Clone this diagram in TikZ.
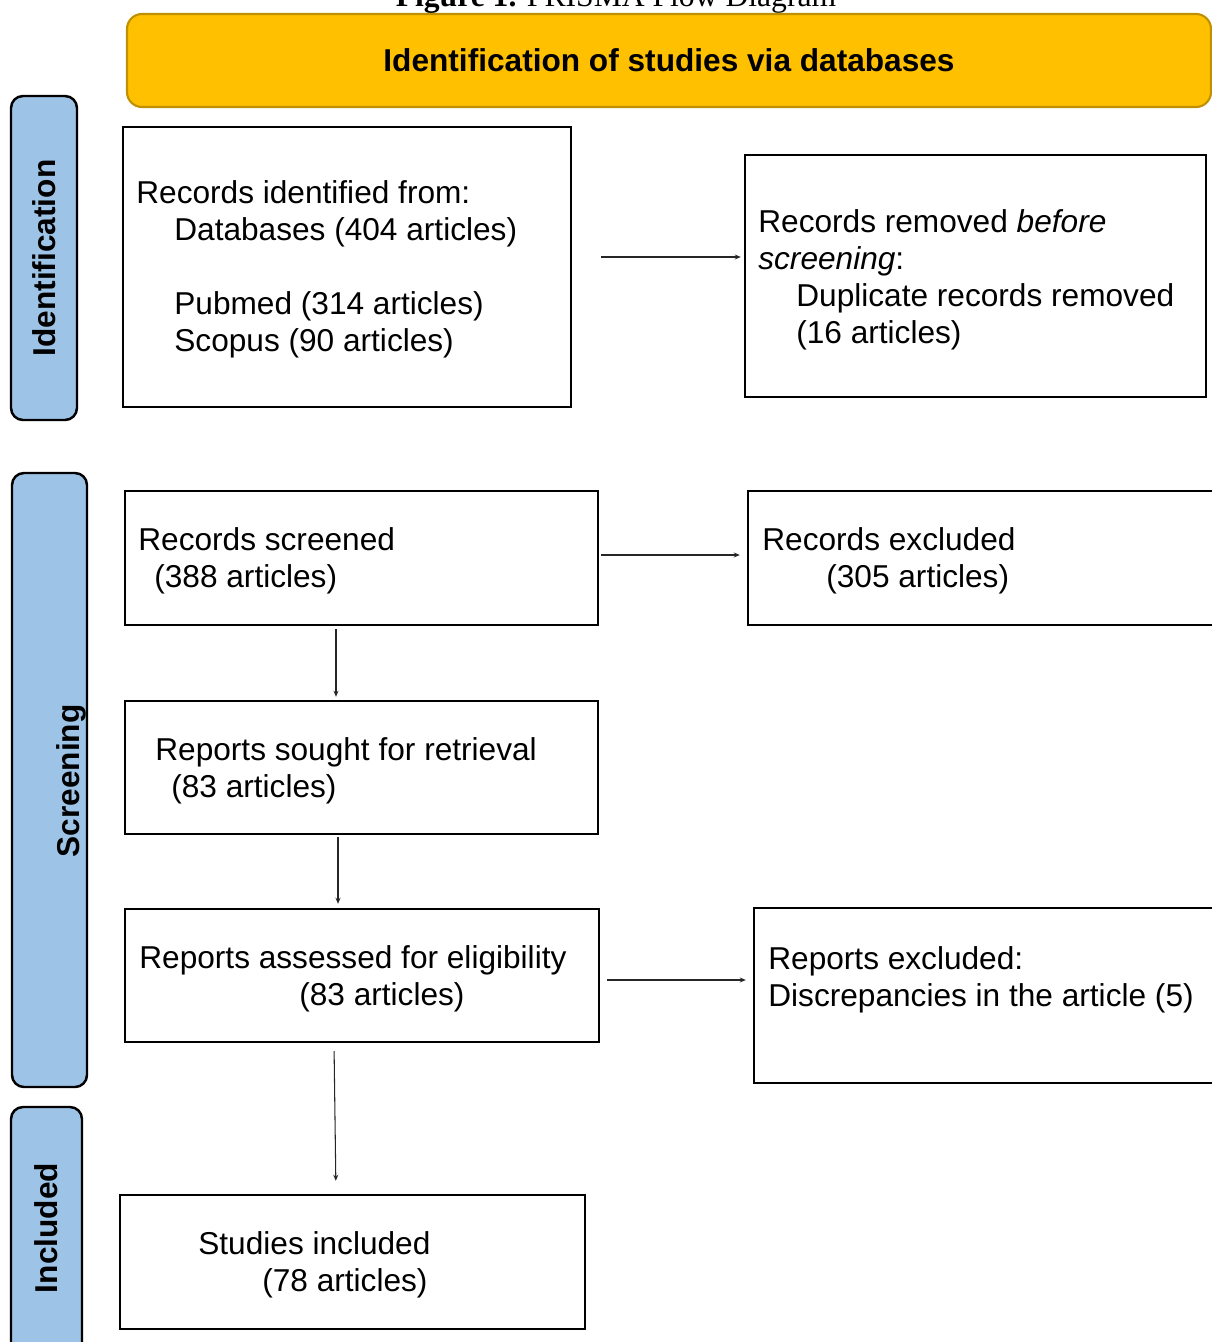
\documentclass[tikz,border=0pt]{standalone}
\usepackage{fontspec}
\setmainfont{Liberation Sans}
\newfontfamily\titlefont{Liberation Serif}
\usepackage{xcolor}
\usepackage{tikz}
\usetikzlibrary{calc}
\usetikzlibrary{arrows.meta}
\usetikzlibrary{positioning}
\definecolor{headfill}{HTML}{FFC000}
\definecolor{headline}{HTML}{BF9000}
\definecolor{barfill}{HTML}{9DC3E6}
\newlength{\pxu}
\setlength{\pxu}{0.02cm}

\begin{document}
\begin{tikzpicture}[x=0.02cm, y=-0.02cm,
  txt/.style={font=\fontsize{18}{21.05}\selectfont, inner sep=0pt, align=left, anchor=base west},
  box/.style={draw, line width=1.4pt, inner sep=0pt},
  bar/.style={draw, line width=1.4pt, fill=barfill, rounded corners=12\pxu},
  barlabel/.style={font=\fontsize{18}{21.05}\selectfont\bfseries, rotate=90, inner sep=0pt},
  arr/.style={line width=0.6pt, black!85, -{Stealth[length=0.12cm, width=0.1cm]}}]

  \useasboundingbox (0,0) rectangle (1212,1342);

  \node[font=\titlefont\fontsize{18}{21}\selectfont, anchor=base, inner sep=0pt] (title)
    at (616,7) {\textbf{Figure 1.} PRISMA Flow Diagram};
  \node[draw=headline, line width=1.2pt, fill=headfill, rounded corners=15\pxu,
    minimum width=1084\pxu, minimum height=93\pxu,
    font=\fontsize{18}{21.05}\selectfont\bfseries] (head)
    at (669,60.5) {Identification of studies via databases};

  \node[bar, minimum width=66\pxu, minimum height=324\pxu] (idbar) at (44,258) {};
  \node[bar, minimum width=75\pxu, minimum height=614\pxu] (scrbar) at (49.5,780) {};
  \node[bar, minimum width=71\pxu, minimum height=253\pxu] (incbar) at (46.5,1233.5) {};
  \node[barlabel] (idlab) at (44,258) {Identification};
  \node[barlabel] (scrlab) at (71,781) {Screening};
  \node[barlabel] (inclab) at (46,1228) {Included};

  \foreach \n/\cx/\cy/\w/\h in {ident/347/267/448/280, removed/975.5/276/461/242,
      screened/361.5/558/473/134, excluded/989/558/482/134,
      sought/361.5/767.5/473/133, assessed/362/975.5/474/133,
      repexcl/992/995.5/476/175, included/352.5/1262/465/134}
    \node[box, minimum width=\w\pxu, minimum height=\h\pxu] (\n) at (\cx,\cy) {};

  \node[txt] (identT) at (136,351) {Records identified from:\\
    \hspace*{38\pxu}Databases (404 articles)\\[37\pxu]
    \hspace*{38\pxu}Pubmed (314 articles)\\
    \hspace*{38\pxu}Scopus (90 articles)};
  \node[txt] (removedT) at (758,343) {Records removed \textit{before}\\
    \textit{screening}:\\
    \hspace*{38\pxu}Duplicate records removed\\
    \hspace*{38\pxu}(16 articles)};
  \node[txt] (screenedT) at (138,587) {Records screened\\\hspace*{16\pxu}(388 articles)};
  \node[txt] (excludedT) at (762,587) {Records excluded\\\hspace*{64\pxu}(305 articles)};
  \node[txt] (soughtT) at (155,797) {Reports sought for retrieval\\\hspace*{16\pxu}(83 articles)};
  \node[txt] (assessedT) at (139,1005) {Reports assessed for eligibility\\\hspace*{160\pxu}(83 articles)};
  \node[txt] (repexclT) at (768,1006) {Reports excluded:\\Discrepancies in the article (5)};
  \node[txt] (includedT) at (198,1291) {Studies included\\\hspace*{64\pxu}(78 articles)};

  \coordinate (rowA) at (0,257);
  \coordinate (rowB) at (0,555);
  \coordinate (rowC) at (0,980);
  \coordinate (colA) at (336,0);
  \coordinate (colB) at (338,0);
  \coordinate (colC) at (334,0);
  \draw[arr, shorten <=0.58cm, shorten >=0.06cm] (ident.east |- rowA) -- (removed.west |- rowA);
  \draw[arr, shorten <=0.04cm, shorten >=0.14cm] (screened.east |- rowB) -- (excluded.west |- rowB);
  \draw[arr, shorten <=0.06cm, shorten >=0.06cm] (screened.south -| colA) -- (sought.north -| colA);
  \draw[arr, shorten <=0.04cm, shorten >=0.08cm] (sought.south -| colB) -- (assessed.north -| colB);
  \draw[arr, shorten <=0.14cm, shorten >=0.14cm] (assessed.east |- rowC) -- (repexcl.west |- rowC);
  \draw[arr, shorten <=0.16cm, shorten >=0.26cm] (assessed.south -| colC) -- (included.north -| colA);
\end{tikzpicture}
\end{document}
